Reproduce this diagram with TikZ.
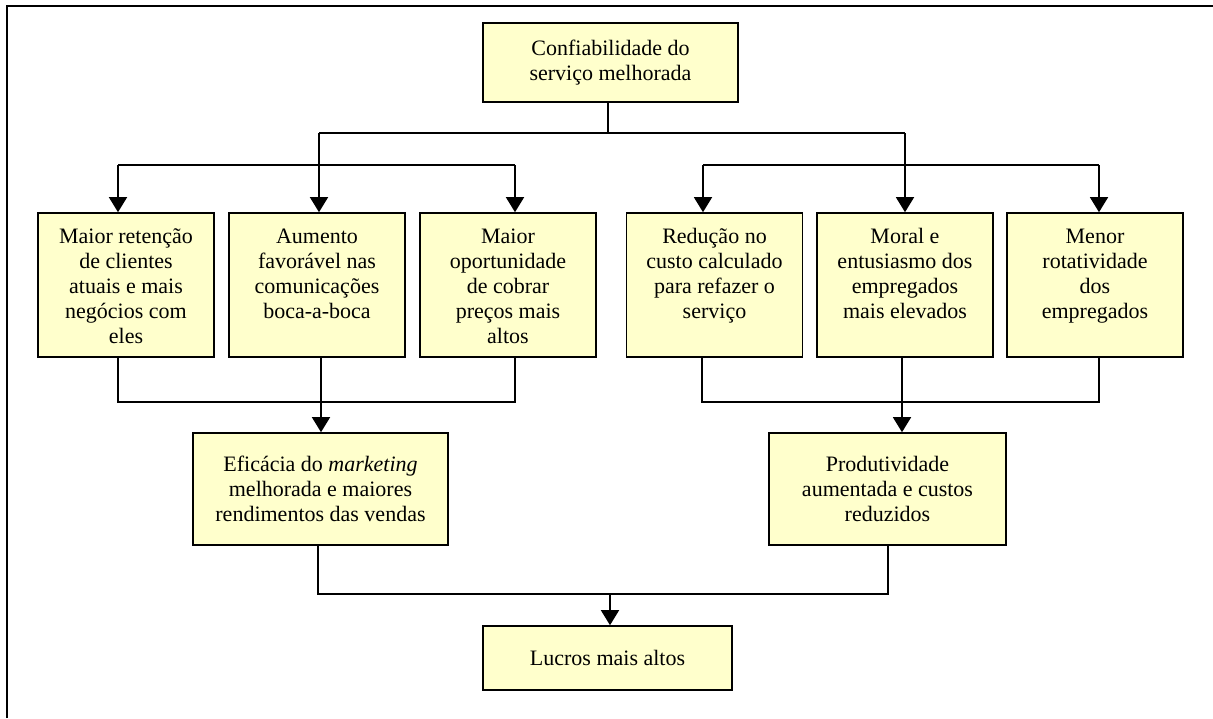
\documentclass[tikz,border=0pt]{standalone}
\usepackage{fontspec}
\setmainfont{Liberation Serif}
\usetikzlibrary{arrows.meta}

% top-aligned text block for the six effect boxes
\newcommand{\effecttext}[1]{\parbox[c][144pt][t]{176pt}{\centering\vspace*{12.5pt}\strut #1}}

\begin{document}
\begin{tikzpicture}[x=1pt,y=-1pt,
  txt/.style={font=\fontsize{22}{25}\selectfont},
  box/.style={txt,draw=black,line width=1.6pt,fill=boxfill,inner sep=0pt,rectangle},
  centerbox/.style={box,align=center},
  conn/.style={draw=black,line width=1.5pt},
  arr/.style={conn,-{Triangle[length=15pt,width=18pt]}}]
\definecolor{boxfill}{RGB}{255,255,204}
\useasboundingbox (0,0) rectangle (1213,718);

% outer frame (left and top edges)
\draw[line width=2pt] (6.5,718) -- (6.5,6) -- (1213,6);

% cause
\node[centerbox,minimum width=255pt,minimum height=79pt] (t) at (610.5,62.2)
  {Confiabilidade do\\serviço melhorada};

% first-level effects
\node[box] (b1) at (126,285) {\effecttext{Maior retenção\\de clientes\\atuais e mais\\negócios com\\eles}};
\node[box] (b2) at (317,285) {\effecttext{Aumento\\favorável nas\\comunicações\\boca-a-boca}};
\node[box] (b3) at (508,285) {\effecttext{Maior\\oportunidade\\de cobrar\\preços mais\\altos}};
\node[box] (b4) at (714.5,285) {\effecttext{Redução no\\custo calculado\\para refazer o\\serviço}};
\node[box] (b5) at (905,285) {\effecttext{Moral e\\entusiasmo dos\\empregados\\mais elevados}};
\node[box] (b6) at (1095,285) {\effecttext{Menor\\rotatividade\\dos\\empregados}};

% second-level effects
\node[centerbox,minimum width=255pt,minimum height=112pt] (b7) at (320.5,489)
  {Eficácia do \textit{marketing}\\melhorada e maiores\\rendimentos das vendas};
\node[centerbox,minimum width=237pt,minimum height=112pt] (b8) at (887.5,489)
  {Produtividade\\aumentada e custos\\reduzidos};

% result
\node[centerbox,minimum width=249pt,minimum height=64pt] (b9) at (607.5,658)
  {Lucros mais altos};

% branching from the cause
\coordinate (s0) at (608,133);
\coordinate (a1) at (118,165);
\coordinate (a2) at (319,133);
\coordinate (a3) at (515,165);
\coordinate (a4) at (703,165);
\coordinate (a5) at (905,133);
\coordinate (a6) at (1099,165);
\draw[conn] (t.south -| s0) -- (s0);
\draw[conn] (a2) -- (a5);
\draw[conn] (a1) -- (a3);
\draw[conn] (a4) -- (a6);
\draw[arr] (a1) -- (a1 |- b1.north);
\draw[arr] (a2) -- (a2 |- b2.north);
\draw[arr] (a3) -- (a3 |- b3.north);
\draw[arr] (a4) -- (a4 |- b4.north);
\draw[arr] (a5) -- (a5 |- b5.north);
\draw[arr] (a6) -- (a6 |- b6.north);

% merging into the second level
\coordinate (c1) at (118,402);
\coordinate (c2) at (321,402);
\coordinate (c3) at (515,402);
\coordinate (c4) at (702,402);
\coordinate (c5) at (902,402);
\coordinate (c6) at (1099,402);
\draw[conn] (b1.south -| c1) -- (c1) -- (c3) -- (b3.south -| c3);
\draw[conn] (b2.south -| c2) -- (c2);
\draw[arr] (c2) -- (c2 |- b7.north);
\draw[conn] (b4.south -| c4) -- (c4) -- (c6) -- (b6.south -| c6);
\draw[conn] (b5.south -| c5) -- (c5);
\draw[arr] (c5) -- (c5 |- b8.north);

% merging into the result
\coordinate (d1) at (318,594);
\coordinate (d2) at (888,594);
\coordinate (d3) at (610,594);
\draw[conn] (b7.south -| d1) -- (d1) -- (d2) -- (b8.south -| d2);
\draw[arr] (d3) -- (d3 |- b9.north);
\end{tikzpicture}
\end{document}
